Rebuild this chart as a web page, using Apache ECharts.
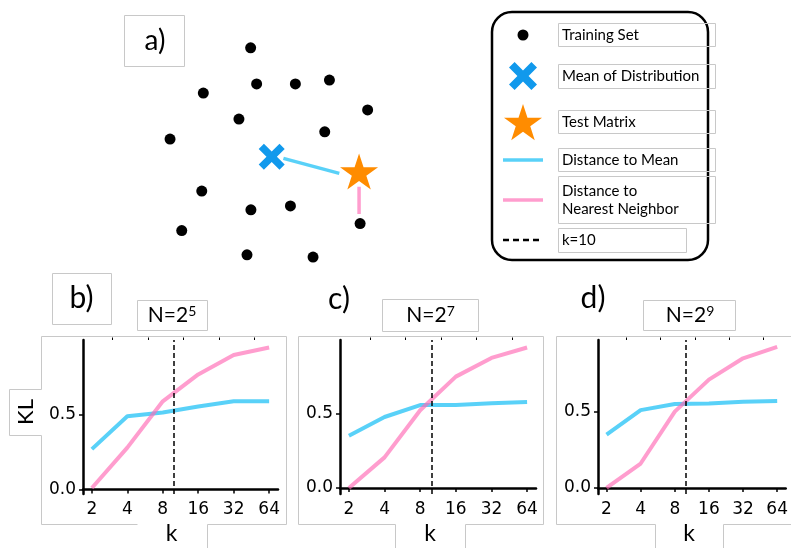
<!DOCTYPE html>
<html>
<head>
<meta charset="utf-8">
<script src="https://cdn.jsdelivr.net/npm/echarts@6/dist/echarts.min.js"></script>
<style>html,body{margin:0;padding:0;background:#fff}#c{width:791px;height:548px}</style>
</head>
<body>
<div id="c"></div>
<script>
// ---------- data ----------
const kValues = [2, 4, 8, 16, 32, 64];
const kMarker = 10;
const xTickLabels = [2, 4, 8, 16, 32, 64];
const xMinorTicks = [3, 6, 12, 24, 48];
const yTickLabels = [0, 0.5];

const meanB = [0.27, 0.49, 0.515, 0.555, 0.59, 0.59];
const nnB   = [0.01, 0.28, 0.59, 0.77, 0.90, 0.95];
const meanC = [0.35, 0.475, 0.555, 0.555, 0.567, 0.576];
const nnC   = [0.00, 0.205, 0.52, 0.745, 0.87, 0.94];
const meanD = [0.35, 0.51, 0.55, 0.553, 0.565, 0.57];
const nnD   = [0.00, 0.16, 0.50, 0.71, 0.85, 0.925];

const panelExponents = ['5', '7', '9'];
const panelLetters = ['b)', 'c)', 'd)'];

// panel a) points
const trainX = [4.64, 4.87, 6.36, 7.67, 2.82, 9.14, 4.19, 7.49, 1.54, 2.76, 4.65, 6.17, 8.85, 1.99, 4.50, 7.04];
const trainY = [8.93, 7.54, 7.54, 7.69, 7.19, 6.54, 6.19, 5.70, 5.42, 3.42, 2.70, 2.85, 2.17, 1.90, 0.97, 0.88];
const meanPoint = [5.45, 4.74];
const testPoint = [8.81, 4.17];
const meanLineX = [5.90, 8.05], meanLineY = [4.68, 4.10];
const nnLineX = [8.81, 8.81], nnLineY = [3.59, 2.54];

const legendLabels = ['Training Set', 'Mean of Distribution', 'Test Matrix', 'Distance to Mean', 'Distance to\nNearest Neighbor', 'k=10'];

// ---------- styles ----------
const BLUE = 'rgba(0,185,245,0.65)';
const PINK = 'rgba(255,105,180,0.65)';
const XCOL = '#1199ec';
const STARCOL = '#ff8c00';
const GRAY = '#c8c8c8';
const SANS = 'Lato, "DejaVu Sans", sans-serif';

function starPts(cx, cy, R) {
  const pts = [];
  for (let i = 0; i < 10; i++) {
    const a = -Math.PI / 2 + i * Math.PI / 5;
    const r = (i % 2) ? R * 0.381966 : R;
    pts.push([cx + r * Math.cos(a), cy + r * Math.sin(a)]);
  }
  return pts;
}
const XSHAPE = [[0,2],[2,0],[5,3],[8,0],[10,2],[7,5],[10,8],[8,10],[5,7],[2,10],[0,8],[3,5]];
function ptsToPath(pts) {
  return pts.map((p, i) => (i ? 'L' : 'M') + p[0].toFixed(2) + ',' + p[1].toFixed(2)).join('') + 'Z';
}
const STAR = ptsToPath(starPts(100, 100, 100));
const XPATH = ptsToPath(XSHAPE);

const panels = [
  { left: 83, width: 195, mean: meanB, nn: nnB, ymin: -0.03, ymax: 1.0 },
  { left: 340, width: 196, mean: meanC, nn: nnC, ymin: -0.04, ymax: 0.99 },
  { left: 598, width: 196, mean: meanD, nn: nnD, ymin: -0.04, ymax: 0.97 }
];

const grids = [{ left: 130, top: 20, width: 260, height: 260 }];
const xAxes = [{ gridIndex: 0, type: 'value', min: 0, max: 10, show: false }];
const yAxes = [{ gridIndex: 0, type: 'value', min: 0, max: 10, show: false }];
const series = [];

// panel a series
series.push({ type: 'line', xAxisIndex: 0, yAxisIndex: 0, symbol: 'none', z: 2,
  data: meanLineX.map((x, i) => [x, meanLineY[i]]), lineStyle: { color: BLUE, width: 3.5 } });
series.push({ type: 'line', xAxisIndex: 0, yAxisIndex: 0, symbol: 'none', z: 2,
  data: nnLineX.map((x, i) => [x, nnLineY[i]]), lineStyle: { color: PINK, width: 3.5 } });
series.push({ type: 'scatter', xAxisIndex: 0, yAxisIndex: 0, z: 3, symbolSize: 11,
  itemStyle: { color: '#000', opacity: 1 }, data: trainX.map((x, i) => [x, trainY[i]]) });
series.push({ type: 'scatter', xAxisIndex: 0, yAxisIndex: 0, z: 3, symbol: 'path://' + XPATH, symbolSize: 26,
  itemStyle: { color: XCOL, opacity: 1 }, data: [meanPoint] });
series.push({ type: 'scatter', xAxisIndex: 0, yAxisIndex: 0, z: 4, symbol: 'path://' + STAR, symbolSize: [38, 36],
  itemStyle: { color: STARCOL, opacity: 1 }, data: [testPoint] });

panels.forEach((p, idx) => {
  const gi = grids.length;
  grids.push({ left: p.left, top: 340, width: p.width, height: 154 });
  const xMain = xAxes.length;
  xAxes.push({
    gridIndex: gi, type: 'log', logBase: 2, min: Math.pow(2, 0.75), max: Math.pow(2, 6.25),
    axisLine: { show: true, lineStyle: { color: '#000', width: 2.5 } },
    axisTick: { show: true, customValues: xTickLabels, length: 4, lineStyle: { color: '#000', width: 1.5 } },
    axisLabel: { show: true, customValues: xTickLabels, color: '#000', fontFamily: 'DejaVu Sans', fontSize: 17, margin: 7,
      formatter: v => String(Math.round(v)) },
    splitLine: { show: false }, minorTick: { show: false }, minorSplitLine: { show: false }
  });
  xAxes.push({
    gridIndex: gi, type: 'log', logBase: 2, min: Math.pow(2, 0.75), max: Math.pow(2, 6.25),
    axisLine: { show: false },
    axisTick: { show: true, customValues: xMinorTicks, length: 2.5, lineStyle: { color: '#000', width: 1 } },
    axisLabel: { show: false }, splitLine: { show: false }
  });
  const yi = yAxes.length;
  yAxes.push({
    gridIndex: gi, type: 'value', min: p.ymin, max: p.ymax,
    axisLine: { show: true, lineStyle: { color: '#000', width: 2.5 } },
    axisTick: { show: true, customValues: yTickLabels, length: 4, lineStyle: { color: '#000', width: 1.5 } },
    axisLabel: { show: true, customValues: yTickLabels, color: '#000', fontFamily: 'DejaVu Sans', fontSize: 17, margin: 7,
      formatter: v => Number(v).toFixed(1) },
    splitLine: { show: false }
  });
  series.push({
    type: 'line', xAxisIndex: xMain, yAxisIndex: yi, symbol: 'none', z: 2,
    data: kValues.map((k, i) => [k, p.mean[i]]), lineStyle: { color: BLUE, width: 4 },
    markLine: { silent: true, symbol: 'none', label: { show: false },
      lineStyle: { color: '#000', type: [5, 3], width: 1.5 }, data: [{ xAxis: kMarker }] }
  });
  series.push({
    type: 'line', xAxisIndex: xMain, yAxisIndex: yi, symbol: 'none', z: 3,
    data: kValues.map((k, i) => [k, p.nn[i]]), lineStyle: { color: PINK, width: 4 }
  });
});

// ---------- decorations (boxes, labels, legend) ----------
const g = [];
function rect(x1, y1, x2, y2) {
  g.push({ type: 'rect', z: 1, shape: { x: x1 + 0.5, y: y1 + 0.5, width: x2 - x1, height: y2 - y1 },
    style: { fill: 'none', stroke: GRAY, lineWidth: 1 } });
}
function poly(pts) {
  g.push({ type: 'polyline', z: 1, shape: { points: pts.map(p => [p[0] + 0.5, p[1] + 0.5]) },
    style: { fill: 'none', stroke: GRAY, lineWidth: 1 } });
}
function text(x, y, s, size, opts) {
  g.push(Object.assign({ type: 'text', z: 5, x: x, y: y,
    style: { text: s, fontSize: size, fontFamily: SANS, fill: '#000', align: 'center', verticalAlign: 'middle' } }, opts || {}));
}
function titleText(x, y, exp) {
  g.push({ type: 'text', z: 5, x: x, y: y,
    style: { text: '{m|N=2}{s|' + exp + '}', align: 'center', verticalAlign: 'middle', fill: '#000',
      rich: {
        m: { fontSize: 21, lineHeight: 22, fontFamily: SANS, fill: '#000' },
        s: { fontSize: 14, lineHeight: 15, fontFamily: SANS, fill: '#000', verticalAlign: 'top' }
      } } });
}

// panel a label
rect(124, 15, 184, 66);
text(155, 41, 'a)', 28);

// legend
g.push({ type: 'rect', z: 1, shape: { x: 492, y: 12, width: 216, height: 248, r: 20 },
  style: { fill: 'none', stroke: '#000', lineWidth: 2.5 } });
const legendBoxes = [[23, 46], [64, 88], [110, 133], [148, 171], [176, 223], [228, 252]];
const legendTextY = [35, 76, 122, 160, 200, 240];
legendBoxes.forEach((b, i) => rect(558, b[0], i === 5 ? 686 : 715, b[1]));
legendLabels.forEach((s, i) => {
  g.push({ type: 'text', z: 5, x: 562, y: legendTextY[i],
    style: { text: s, fontSize: 15, fontFamily: SANS, fill: '#000', align: 'left', verticalAlign: 'middle', lineHeight: 18 } });
});
g.push({ type: 'circle', z: 5, shape: { cx: 523, cy: 35, r: 5.5 }, style: { fill: '#000' } });
g.push({ type: 'polygon', z: 5, shape: { points: XSHAPE.map(p => [509 + p[0] * 2.8, 62 + p[1] * 2.8]) }, style: { fill: XCOL } });
g.push({ type: 'polygon', z: 5, shape: { points: starPts(523, 124, 20) }, style: { fill: STARCOL } });
g.push({ type: 'line', z: 5, shape: { x1: 503, y1: 160, x2: 543, y2: 160 }, style: { stroke: BLUE, lineWidth: 3.5 } });
g.push({ type: 'line', z: 5, shape: { x1: 503, y1: 200, x2: 543, y2: 200 }, style: { stroke: PINK, lineWidth: 3.5 } });
g.push({ type: 'line', z: 5, shape: { x1: 503, y1: 240, x2: 543, y2: 240 }, style: { stroke: '#000', lineWidth: 2.5, lineDash: [6, 4] } });

// lower panel labels
rect(52, 273, 111, 324);
text(81.5, 298, panelLetters[0], 30);
text(339, 299, panelLetters[1], 30);
text(593, 298, panelLetters[2], 30);

rect(137, 300, 207, 330);
rect(382, 299, 478, 331);
rect(643, 300, 735, 330);
titleText(172, 315, panelExponents[0]);
titleText(430.5, 315, panelExponents[1]);
titleText(690, 315, panelExponents[2]);

// axes boxes
poly([[137, 524], [41, 524], [41, 435]]);
poly([[41, 389], [41, 336], [286, 336], [286, 524], [207, 524]]);
poly([[41, 389], [9, 389], [9, 435], [41, 435]]);
poly([[207, 524], [207, 548]]);
poly([[395, 524], [298, 524], [298, 336], [543, 336], [543, 524], [465, 524]]);
poly([[395, 524], [395, 548]]);
poly([[465, 524], [465, 548]]);
poly([[655, 524], [556, 524], [556, 336], [800, 336]]);
poly([[723, 524], [800, 524]]);
poly([[655, 524], [655, 548]]);
poly([[723, 524], [723, 548]]);

text(26, 412, 'KL', 22, { rotation: Math.PI / 2 });
text(171.5, 534, 'k', 23);
text(430, 534, 'k', 23);
text(689, 534, 'k', 23);

const chart = echarts.init(document.getElementById('c'), null, { renderer: 'canvas' });
chart.setOption({
  animation: false,
  backgroundColor: '#fff',
  grid: grids,
  xAxis: xAxes,
  yAxis: yAxes,
  series: series,
  graphic: { elements: g }
});
</script>
</body>
</html>
